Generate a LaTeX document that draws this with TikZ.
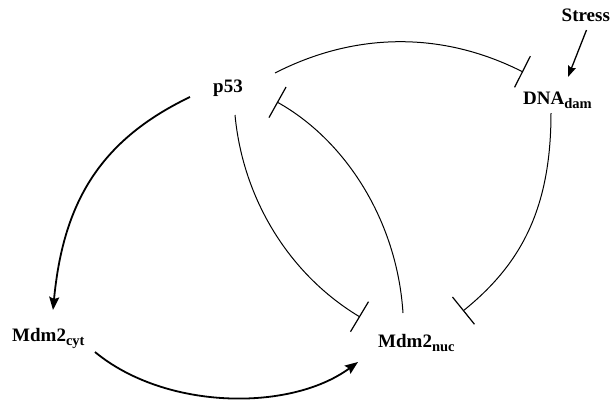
\documentclass[tikz,border=0pt]{standalone}
\usepackage{fontspec}
\setmainfont{Liberation Serif}
\usetikzlibrary{arrows.meta}
\newcommand{\sbs}[1]{\raisebox{-4pt}{\fontsize{14.5}{16}\selectfont\bfseries #1}}
\begin{document}
\begin{tikzpicture}[x=1pt,y=-1pt,
  lbl/.style={anchor=base west,inner sep=0pt,font=\fontsize{19}{22}\selectfont\bfseries},
  act/.style={line width=1.8pt,-{Stealth[length=13pt,width=10pt,inset=2pt]}},
  actthin/.style={line width=1.3pt,-{Stealth[length=11pt,width=8pt,inset=1.5pt]}},
  inh/.style={line width=1pt,-{Bar[width=35pt,line width=1.2pt]}}]
\useasboundingbox (0,0) rectangle (611,405);
\node[lbl] (p53) at (213,92) {p53};
\node[lbl] (stress) at (561.5,21) {Stress};
\node[lbl] (dna) at (523,104) {DNA\sbs{dam}};
\node[lbl] (cyt) at (12,341) {Mdm2\sbs{cyt}};
\node[lbl] (nuc) at (378,347) {Mdm2\sbs{nuc}};
% p53 -> Mdm2cyt
\draw[act] ([shift={(-23,5)}]p53.base west) .. controls (98,141) and (63,205) .. ([shift={(41,-31)}]cyt.base west);
% Mdm2cyt -> Mdm2nuc
\draw[act] ([shift={(83,11)}]cyt.base west) .. controls (165,410) and (290,412) .. ([shift={(-20,15)}]nuc.base west);
% p53 -| DNAdam
\draw[inh] ([shift={(62,-19)}]p53.base west) .. controls (355,32) and (442,31) .. ([shift={(0,-32)}]dna.base west);
% DNAdam -| Mdm2nuc
\draw[inh] ([shift={(28,9)}]dna.base west) .. controls (551,210) and (520,265) .. ([shift={(85,-36)}]nuc.base west);
% p53 -| Mdm2nuc
\draw[inh] ([shift={(22,23)}]p53.base west) .. controls (243,200) and (290,275) .. ([shift={(-18,-30)}]nuc.base west);
% Mdm2nuc -| p53
\draw[inh] ([shift={(25,-34)}]nuc.base west) .. controls (397,220) and (345,140) .. ([shift={(64,10)}]p53.base west);
% Stress -> DNAdam
\draw[actthin] ([shift={(25,9)}]stress.base west) -- ([shift={(45,-27)}]dna.base west);
\end{tikzpicture}
\end{document}
